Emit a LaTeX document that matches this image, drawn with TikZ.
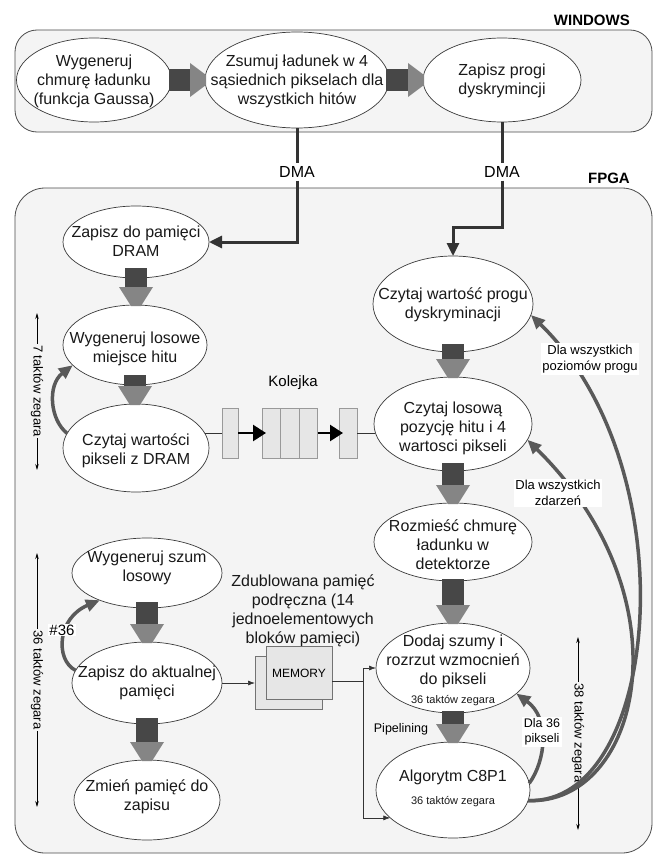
\documentclass[tikz,border=0pt]{standalone}
\usepackage{fontspec}
\setmainfont{Liberation Sans}
\usetikzlibrary{arrows.meta,calc,shapes.geometric}
\definecolor{bgc}{HTML}{F4F4F4}
\definecolor{edgec}{HTML}{3A3A3A}
\definecolor{shaftc}{HTML}{474747}
\definecolor{headc}{HTML}{858585}
\definecolor{curvec}{HTML}{595959}
\definecolor{boxc}{HTML}{E6E6E6}
\newcommand{\fmain}{\fontsize{16}{19}\selectfont}
\newcommand{\fsmall}{\fontsize{11}{13}\selectfont}
\newcommand{\flab}{\fontsize{13}{16}\selectfont}
\newcommand{\fdim}{\fontsize{13}{15}\selectfont}
\newcommand{\fhead}{\fontsize{15}{18}\selectfont\bfseries}
% vertical block arrow between two nodes; #3 = overlap into upper node
\newcommand{\bav}[3]{%
  \fill[shaftc] let \p1=(#1.south), \p2=(#2.north) in (\x1-11pt,\y1+#3pt) rectangle (\x1+11pt,\y2+18pt);
  \fill[headc] let \p1=(#1.south), \p2=(#2.north) in (\x1-17pt,\y2+18pt) -- (\x1+17pt,\y2+18pt) -- (\x1+5pt,\y2-1pt) -- (\x1-5pt,\y2-1pt) -- cycle;}
% horizontal block arrow between two nodes
\newcommand{\bah}[2]{%
  \fill[shaftc] let \p1=(#1.east), \p2=(#2.west) in (\x1-3pt,\y1-11pt) rectangle (\x2-15pt,\y1+11pt);
  \fill[headc] let \p1=(#1.east), \p2=(#2.west) in (\x2-15pt,\y1-17pt) -- (\x2-15pt,\y1+17pt) -- (\x2+1pt,\y1+5pt) -- (\x2+1pt,\y1-5pt) -- cycle;}
\begin{document}
\begin{tikzpicture}[x=1pt,y=-1pt,
  region/.style={draw=black!70, fill=bgc, line width=0.8pt},
  ell/.style={ellipse, draw=edgec, fill=white, line width=0.7pt, inner sep=0pt, outer sep=0pt},
  txt/.style={align=center, font=\fmain, inner sep=0pt, text=black!90},
  headlab/.style={font=\fhead, inner sep=0pt},
  dmalab/.style={font=\fmain, inner sep=3pt},
  dmaln/.style={draw=black!80, line width=3pt},
  dma/.style={draw=black!80, line width=3pt, -{Triangle[length=13pt,width=12pt]}},
  fb/.style={draw=curvec, line width=3.5pt, -{Triangle[length=14pt,width=12pt]}},
  thinln/.style={draw=black!80, line width=0.7pt},
  thinarr/.style={draw=black!80, line width=0.7pt, -{Latex[length=7pt,width=5pt]}},
  qbox/.style={draw=black!40, fill=boxc, line width=0.6pt, minimum height=50, inner sep=0pt, outer sep=0pt},
  qarr/.style={draw=black, line width=2.5pt, -{Triangle[length=13pt,width=16pt]}},
  membox/.style={draw=black!55, fill=boxc, line width=0.7pt, minimum width=66, minimum height=53, inner sep=0pt, outer sep=0pt},
  dim/.style={draw=black, line width=0.7pt, {Stealth[length=6pt,width=3.5pt]}-{Stealth[length=6pt,width=3.5pt]}},
  dimlab/.style={font=\fdim, fill=bgc, inner sep=1.5pt, rotate=-90},
  cl/.style={font=\flab, fill=white, inner sep=1.5pt, align=center}
]
\useasboundingbox (0,0) rectangle (660,859);
\fill[white] (0,0) rectangle (660,859);

% regions
\draw[region, rounded corners=22pt] (15,30) rectangle (652,132);
\node[headlab, anchor=east] (winlab) at (630,20) {WINDOWS};
\draw[region, rounded corners=30pt] (15,188) rectangle (652,853);
\node[headlab, anchor=east] (fpgalab) at (630,178) {FPGA};

% dimension lines
\coordinate (d1a) at (37,313); \coordinate (d1b) at (37,470);
\draw[dim] (d1a) -- (d1b);
\node[dimlab] (d1l) at (37,391) {7 taktów zegara};
\coordinate (d2a) at (37,553); \coordinate (d2b) at (37,807);
\draw[dim] (d2a) -- (d2b);
\node[dimlab] (d2l) at (37,680) {36 taktów zegara};
\coordinate (d3a) at (578,637); \coordinate (d3b) at (578,830);
\draw[dim] (d3a) -- (d3b);
\node[dimlab] (d3l) at (578,733) {38 taktów zegara};

% ellipses
\node[ell, minimum width=155, minimum height=84] (w1) at (94,80) {};
\node[ell, minimum width=184, minimum height=96] (w2) at (297,80) {};
\node[ell, minimum width=158, minimum height=84] (w3) at (502,80) {};
\node[ell, minimum width=146, minimum height=72] (a1) at (136,242) {};
\node[ell, minimum width=144, minimum height=80] (a2) at (135,345) {};
\node[ell, minimum width=146, minimum height=88] (a3) at (136,448) {};
\node[ell, minimum width=160, minimum height=96] (b1) at (453,304) {};
\node[ell, minimum width=158, minimum height=94] (b2) at (453,424) {};
\node[ell, minimum width=158, minimum height=78] (b3) at (453,542) {};
\node[ell, minimum width=154, minimum height=90] (b4) at (453,668) {};
\node[ell, minimum width=154, minimum height=96] (b5) at (453,790) {};
\node[ell, minimum width=150, minimum height=70] (c1) at (147,573) {};
\node[ell, minimum width=150, minimum height=82] (c2) at (147,683) {};
\node[ell, minimum width=146, minimum height=80] (c3) at (147,800) {};

% texts
\node[txt] (w1t) at (94,81) {Wygeneruj\\chmurę ładunku\\(funkcja Gaussa)};
\node[txt] (w2t) at (297,81) {Zsumuj ładunek w 4\\sąsiednich pikselach dla\\wszystkich hitów};
\node[txt] (w3t) at (502,81) {Zapisz progi\\dyskrymincji};
\node[txt] (a1t) at (136,241) {Zapisz do pamięci\\DRAM};
\node[txt] (a2t) at (135,349) {Wygeneruj losowe\\miejsce hitu};
\node[txt] (a3t) at (136,451) {Czytaj wartości\\pikseli z DRAM};
\node[txt] (b1t) at (453,305) {Czytaj wartość progu\\dyskryminacji};
\node[txt] (b2t) at (453,428) {Czytaj losową\\pozycję hitu i 4\\wartosci pikseli};
\node[txt] (b3t) at (453,545) {Rozmieść chmurę\\ładunku w\\detektorze};
\node[txt] (b4t) at (453,670) {Dodaj szumy i\\rozrzut wzmocnień\\do pikseli\\{\fsmall 36 taktów zegara}};
\node[txt] (b5t) at (453,788) {Algorytm C8P1\\[4pt]{\fsmall 36 taktów zegara}};
\node[txt] (c1t) at (147,568) {Wygeneruj szum\\losowy};
\node[txt] (c2t) at (147,683) {Zapisz do aktualnej\\pamięci};
\node[txt] (c3t) at (147,797) {Zmień pamięć do\\zapisu};

% block arrows
\bah{w1}{w2}
\bah{w2}{w3}
\bav{a1}{a2}{10}
\bav{a2}{a3}{10}
\bav{b1}{b2}{8}
\bav{b2}{b3}{8}
\bav{b3}{b4}{2}
\bav{b4}{b5}{2}
\bav{c1}{c2}{6}
\bav{c2}{c3}{6}
\node[font=\fontsize{12.5}{14}\selectfont, inner sep=0pt] (pipe) at (401,729) {Pipelining};

% DMA connections
\node[dmalab] (dma1) at (297,172) {DMA};
\node[dmalab] (dma2) at (502,172) {DMA};
\draw[dmaln] (w2.south) -- (dma1.north);
\draw[dmaln] (w3.south) -- (dma2.north);
\draw[dma] (dma1.south) |- (a1.east);
\coordinate (dmabend) at (502,227);
\draw[dma] (dma2.south) -- (dmabend) -| (b1.north);

% queue
\node[font=\fontsize{15}{18}\selectfont, inner sep=0pt] (kol) at (293,383) {Kolejka};
\node[qbox, minimum width=16] (q1) at (230,433) {};
\node[qbox, minimum width=18.5] (q2) at (271.25,433) {};
\node[qbox, minimum width=18.5] (q3) at (289.75,433) {};
\node[qbox, minimum width=18.5] (q4) at (308.25,433) {};
\node[qbox, minimum width=18] (q5) at (348,433) {};
\draw[thinln] (a3.12) -- (a3.12 -| q1.west);
\draw[thinln] (q5.east) -- (q5.east -| b2.186);
\draw[qarr] (q1.east) -- ([xshift=4pt]q2.west);
\draw[qarr] (q4.east) -- ([xshift=4pt]q5.west);

% memory
\node[font=\fmain, align=center, inner sep=0pt, text=black!90] (zdub) at (303,611) {Zdublowana pamięć\\podręczna (14\\jednoelementowych\\bloków pamięci)};
\node[membox, minimum width=67] (memb) at (288.5,683) {};
\node[membox, font=\fontsize{12}{14}\selectfont] (memf) at (299,673) {MEMORY};
\draw[thinarr] (c2.east) -- (memb.west);
\coordinate (junc) at (363,681);
\draw[thinln] (memf.east |- junc) -- (junc);
\draw[thinarr] (b4.west -| junc) -- (b4.west);
\draw[thinarr] (b4.west -| junc) |- (b5.204);

% feedback curves
\draw[fb] (a3.168) .. controls (50,420) and (47,385) .. (a2.198);
\draw[fb] (c2.170) .. controls (55,660) and (57,618) .. (c1.210);
\node[font=\fontsize{15}{17}\selectfont, fill=white, inner sep=1pt] (h36) at (62,630) {\#36};
\draw[fb] (b5.5) .. controls (546,760) and (550,718) .. (b4.338);
\node[cl, font=\fontsize{12.5}{15}\selectfont] (l36) at (542,732) {Dla 36\\pikseli};
\draw[fb] (b5.352) .. controls (640,805) and (690,600) .. (b2.348);
\draw[fb] (b5.352) .. controls (660,805) and (690,470) .. (b1.352);
\node[cl] (lz) at (558,493) {Dla wszystkich\\zdarzeń};
\node[cl] (lp) at (590,359) {Dla wszystkich\\poziomów progu};
\end{tikzpicture}
\end{document}
